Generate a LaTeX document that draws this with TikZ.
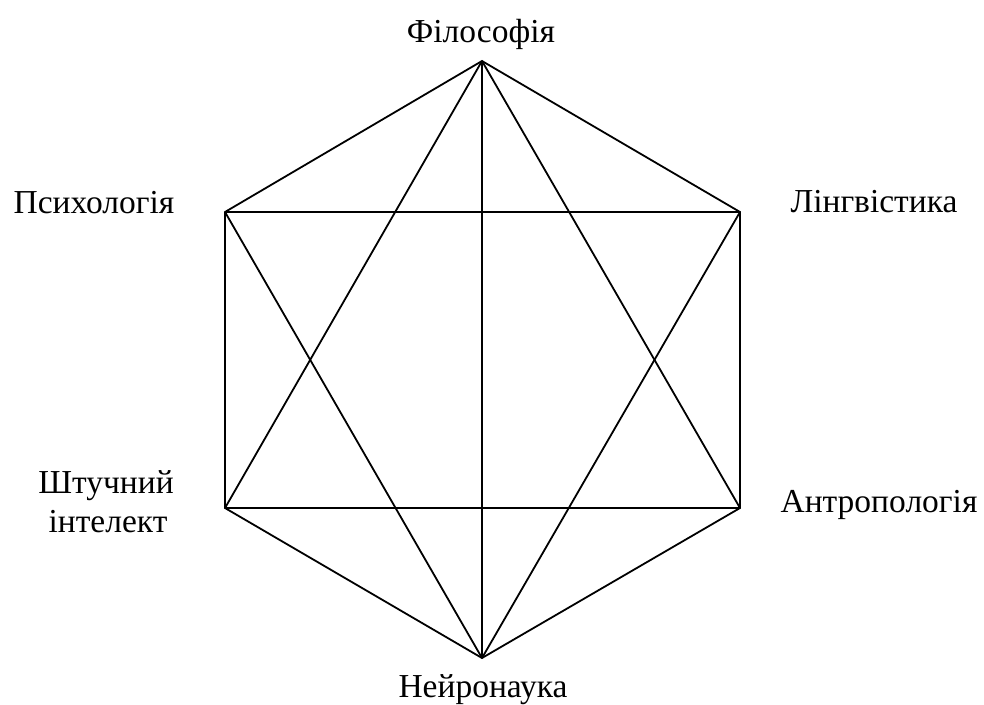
\documentclass[tikz,border=0pt]{standalone}
\usepackage{fontspec}
\setmainfont{Liberation Serif}
\begin{document}
\begin{tikzpicture}[x=1pt,y=-1pt,
  edge/.style={draw=black,line width=1.8pt,line join=miter},
  lbl/.style={font=\fontsize{33.5}{38}\selectfont,inner sep=0pt,anchor=base}]
\useasboundingbox (0,0) rectangle (984,704);
\coordinate (T) at (482,61);
\coordinate (UL) at (225,212);
\coordinate (UR) at (740,212);
\coordinate (LL) at (225,508);
\coordinate (LR) at (740,508);
\coordinate (B) at (482,658);
\draw[edge] (T) -- (UR) -- (LR) -- (B) -- (LL) -- (UL) -- cycle;
\draw[edge] (UL) -- (UR);
\draw[edge] (LL) -- (LR);
\draw[edge] (T) -- (B);
\draw[edge] (T) -- (LL);
\draw[edge] (T) -- (LR);
\draw[edge] (B) -- (UL);
\draw[edge] (B) -- (UR);
\node[lbl] (phil) at (481,42) {Філософія};
\node[lbl] (psy) at (94,213) {Психологія};
\node[lbl] (ling) at (874,212) {Лінгвістика};
\node[lbl] (ai1) at (106,493) {Штучний};
\node[lbl] (ai2) at (108,532) {інтелект};
\node[lbl] (anth) at (879,512) {Антропологія};
\node[lbl] (neuro) at (483,697) {Нейронаука};
\end{tikzpicture}
\end{document}
